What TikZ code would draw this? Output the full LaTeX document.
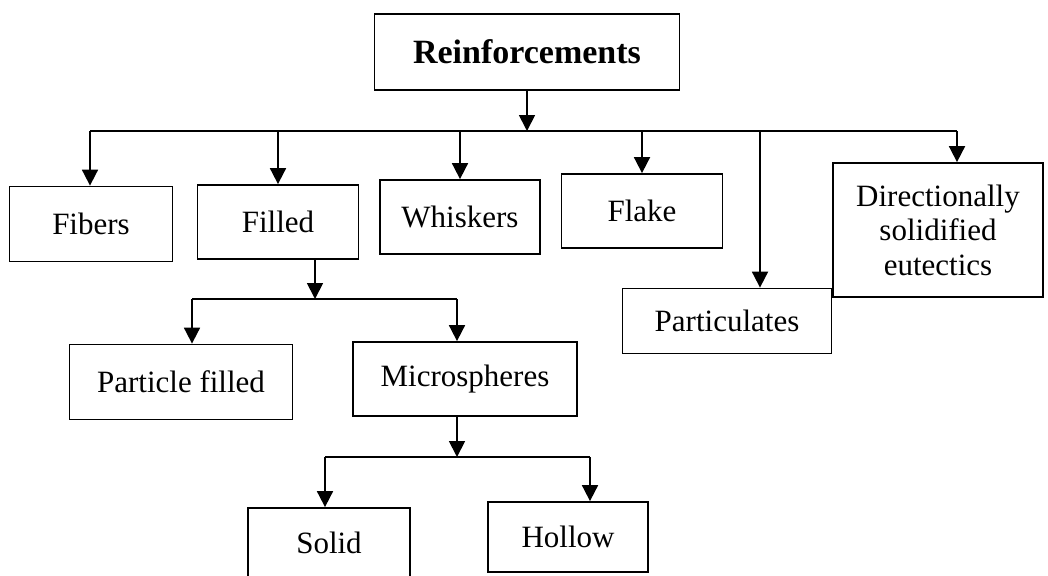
\documentclass[tikz,border=0pt]{standalone}
\usepackage{fontspec}
\setmainfont{Liberation Serif}
\usetikzlibrary{arrows.meta, positioning}

\begin{document}
\begin{tikzpicture}[
    x=0.5pt, y=-0.5pt,
    catbox/.style={rectangle, draw=black, line width=0.9pt, font=\fontsize{15.5}{17.25}\selectfont, align=center, inner sep=2pt},
    rootbox/.style={catbox, font=\fontsize{17}{20}\selectfont\bfseries},
    link/.style={line width=0.9pt},
    down/.style={link, -{Triangle[length=8pt, width=8pt]}}
]
    \useasboundingbox (0,0) rectangle (1048,575);

    % Top level
    \node[rootbox, minimum width=152.5pt, minimum height=38pt] (reinf) at (527,52) {Reinforcements};

    % First row
    \node[catbox, minimum width=81.5pt, minimum height=37.5pt] (fibers) at (91,224) {Fibers};
    \node[catbox, minimum width=80.5pt, minimum height=37pt] (filled) at (278,222) {Filled};
    \node[catbox, minimum width=80pt, minimum height=37pt] (whiskers) at (460,217) {Whiskers};
    \node[catbox, minimum width=80.5pt, minimum height=37pt] (flake) at (642,211) {Flake};
    \node[catbox, minimum width=104.5pt, minimum height=32.5pt] (partic) at (727,321) {Particulates};
    \node[catbox, minimum width=105pt, minimum height=67pt] (dir) at (938,230) {Directionally\\solidified\\eutectics};

    % Filled branch
    \node[catbox, minimum width=111.5pt, minimum height=37.5pt] (pfilled) at (181,382) {Particle filled};
    \node[catbox, minimum width=112pt, minimum height=37pt] (micro) at (465,379) {Microspheres};

    % Microspheres branch
    \node[catbox, minimum width=81pt, minimum height=35pt] (solid) at (329,543) {Solid};
    \node[catbox, minimum width=80pt, minimum height=35pt] (hollow) at (568,537) {Hollow};

    % Main bus
    \coordinate (bus) at (527,131);
    \coordinate (busL) at (90,131);
    \coordinate (busP) at (760,131);
    \coordinate (busR) at (957,131);
    \draw[down] (reinf) -- (bus);
    \draw[link] (busL) -- (busR);
    \draw[down] (busL) -- (busL |- fibers.north);
    \draw[down] (filled.north |- bus) -- (filled.north);
    \draw[down] (whiskers.north |- bus) -- (whiskers.north);
    \draw[down] (flake.north |- bus) -- (flake.north);
    \draw[down] (busP) -- (busP |- partic.north);
    \draw[down] (busR) -- (busR |- dir.north);

    % Filled bus
    \coordinate (fillJ) at (315,299);
    \coordinate (fillL) at (192,299);
    \coordinate (fillR) at (457,299);
    \draw[down] (fillJ |- filled.south) -- (fillJ);
    \draw[link] (fillL) -- (fillR);
    \draw[down] (fillL) -- (fillL |- pfilled.north);
    \draw[down] (fillR) -- (fillR |- micro.north);

    % Microspheres bus
    \coordinate (micJ) at (457,457);
    \coordinate (micL) at (325,457);
    \coordinate (micR) at (590,457);
    \draw[down] (micJ |- micro.south) -- (micJ);
    \draw[link] (micL) -- (micR);
    \draw[down] (micL) -- (micL |- solid.north);
    \draw[down] (micR) -- (micR |- hollow.north);
\end{tikzpicture}
\end{document}
